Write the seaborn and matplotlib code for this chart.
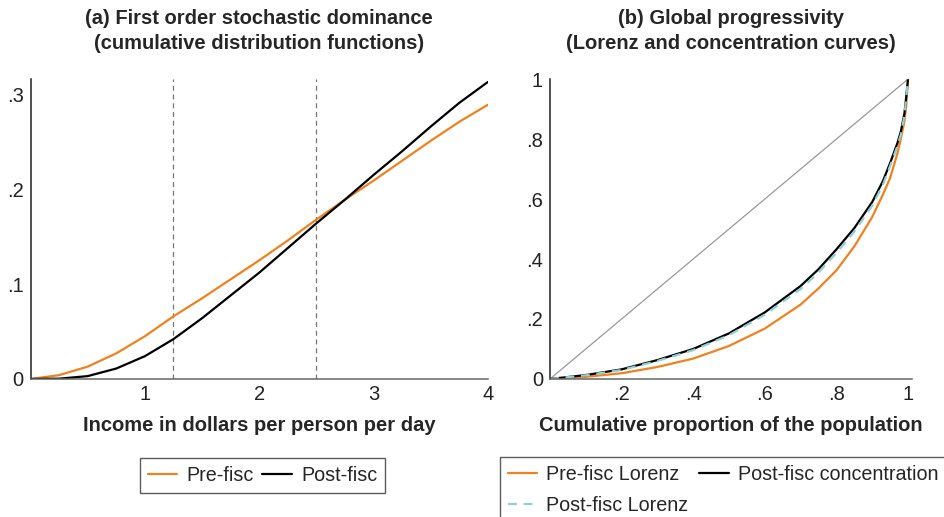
import matplotlib
matplotlib.use("Agg")
import matplotlib.pyplot as plt
from matplotlib.lines import Line2D
import pandas as pd
import seaborn as sns

# (a) cumulative distribution functions, income in dollars per person per day
income = [0, 0.25, 0.5, 0.75, 1, 1.25, 1.5, 1.75, 2, 2.25, 2.5, 2.75, 3, 3.25, 3.5, 3.75, 4]
cdf_pre = [0, 0.004, 0.013, 0.027, 0.045, 0.066, 0.085, 0.105, 0.125, 0.146, 0.168,
           0.189, 0.209, 0.230, 0.251, 0.271, 0.289]
cdf_post = [0, 0.0003, 0.003, 0.011, 0.024, 0.042, 0.064, 0.088, 0.112, 0.138, 0.164,
            0.189, 0.215, 0.240, 0.266, 0.291, 0.313]
poverty_lines = [1.25, 2.5]

# (b) Lorenz and concentration curves
pop_share = [0, 0.1, 0.2, 0.3, 0.4, 0.5, 0.6, 0.7, 0.75, 0.8, 0.85, 0.9, 0.93, 0.95,
             0.97, 0.98, 0.99, 0.995, 1]
lorenz_pre = [0, 0.007, 0.019, 0.040, 0.068, 0.110, 0.168, 0.248, 0.302, 0.362, 0.442,
              0.54, 0.615, 0.67, 0.75, 0.80, 0.86, 0.91, 1.0]
conc_post = [0, 0.013, 0.032, 0.063, 0.100, 0.152, 0.222, 0.310, 0.366, 0.432, 0.503,
             0.59, 0.66, 0.72, 0.785, 0.825, 0.885, 0.94, 1.0]
lorenz_post = [0, 0.012, 0.030, 0.060, 0.096, 0.146, 0.214, 0.300, 0.355, 0.420, 0.491,
               0.578, 0.648, 0.71, 0.775, 0.815, 0.878, 0.935, 1.0]

ORANGE = "#f0821e"
BLUE = "#8fcfd6"
FS = 14.5

sns.set_style("white")
plt.rcParams["font.family"] = ["Liberation Sans", "DejaVu Sans"]

fig = plt.figure(figsize=(9.45, 5.17), dpi=100)
ax1 = fig.add_axes([0.0323, 0.267, 0.484, 0.58])
ax2 = fig.add_axes([0.582, 0.267, 0.383, 0.58])

cdf = pd.DataFrame({"x": income * 2, "y": cdf_pre + cdf_post,
                    "series": ["Pre-fisc"] * len(income) + ["Post-fisc"] * len(income)})
sns.lineplot(data=cdf, x="x", y="y", hue="series",
             palette={"Pre-fisc": ORANGE, "Post-fisc": "black"},
             linewidth=1.6, ax=ax1, legend=False)
for p in poverty_lines:
    ax1.axvline(p, color="#777777", linestyle=(0, (4, 3)), linewidth=0.9, zorder=0)

ax2.plot([0, 1], [0, 1], color="#999999", linewidth=0.9)
lor = pd.DataFrame({"x": pop_share * 3,
                    "y": lorenz_pre + conc_post + lorenz_post,
                    "series": (["Pre-fisc Lorenz"] * len(pop_share)
                               + ["Post-fisc concentration"] * len(pop_share)
                               + ["Post-fisc Lorenz"] * len(pop_share))})
sns.lineplot(data=lor, x="x", y="y", hue="series", style="series",
             palette={"Pre-fisc Lorenz": ORANGE, "Post-fisc concentration": "black",
                      "Post-fisc Lorenz": BLUE},
             dashes={"Pre-fisc Lorenz": "", "Post-fisc concentration": "",
                     "Post-fisc Lorenz": (4, 3)},
             linewidth=1.6, ax=ax2, legend=False)

ax1.set_xlim(0, 4)
ax1.set_ylim(0, 0.316)
ax1.set_xticks([1, 2, 3, 4])
ax1.set_xticklabels(["1", "2", "3", "4"])
ax1.set_yticks([0, 0.1, 0.2, 0.3])
ax1.set_yticklabels(["0", ".1", ".2", ".3"])

ax2.set_xlim(0, 1.011)
ax2.set_ylim(0, 1.0)
ax2.set_xticks([0.2, 0.4, 0.6, 0.8, 1])
ax2.set_xticklabels([".2", ".4", ".6", ".8", "1"])
ax2.set_yticks([0, 0.2, 0.4, 0.6, 0.8, 1])
ax2.set_yticklabels(["0", ".2", ".4", ".6", ".8", "1"])

for ax in (ax1, ax2):
    sns.despine(ax=ax)
    ax.spines["left"].set_color("#222222")
    ax.spines["bottom"].set_color("#666666")
    ax.spines["left"].set_linewidth(1.1)
    ax.spines["bottom"].set_linewidth(1.1)
    ax.tick_params(axis="x", length=0, labelsize=FS, colors="#222222", pad=4)
    ax.tick_params(axis="y", length=0, labelsize=FS, colors="#222222", pad=5)
    ax.set_ylabel("")
    ax.patch.set_alpha(0)

ax1.set_title("(a) First order stochastic dominance\n(cumulative distribution functions)",
              fontsize=FS, fontweight="bold", pad=22, linespacing=1.35)
ax2.set_title("(b) Global progressivity\n(Lorenz and concentration curves)",
              fontsize=FS, fontweight="bold", pad=22, linespacing=1.35)
ax1.set_xlabel("Income in dollars per person per day", fontsize=FS,
               fontweight="bold", labelpad=9)
ax2.set_xlabel("Cumulative proportion of the population", fontsize=FS,
               fontweight="bold", labelpad=9)

LFS = 14.2
h1 = [Line2D([], [], color=ORANGE, lw=1.6), Line2D([], [], color="black", lw=1.6)]
leg1 = fig.legend(h1, ["Pre-fisc", "Post-fisc"], ncol=2, loc="upper left",
                  bbox_to_anchor=(140 / 945, 1 - 458 / 517), fontsize=LFS,
                  frameon=True, fancybox=False, edgecolor="#333333",
                  handlelength=1.5, columnspacing=0.45, handletextpad=0.45,
                  borderpad=0.4, borderaxespad=0)
leg1.get_frame().set_linewidth(1.0)

h2 = [Line2D([], [], color=ORANGE, lw=1.6),
      Line2D([], [], color=BLUE, lw=1.6, linestyle=(0, (4, 3))),
      Line2D([], [], color="black", lw=1.6)]
leg2 = fig.legend(h2, ["Pre-fisc Lorenz", "Post-fisc Lorenz", "Post-fisc concentration"],
                  ncol=2, loc="upper left",
                  bbox_to_anchor=(500 / 945, 1 - 457 / 517), fontsize=LFS,
                  frameon=True, fancybox=False, edgecolor="#333333",
                  handlelength=1.5, columnspacing=0.55, handletextpad=0.45,
                  borderpad=0.4, labelspacing=0.6, borderaxespad=0)
leg2.get_frame().set_linewidth(1.0)

fig.savefig("out.png", dpi=100)
